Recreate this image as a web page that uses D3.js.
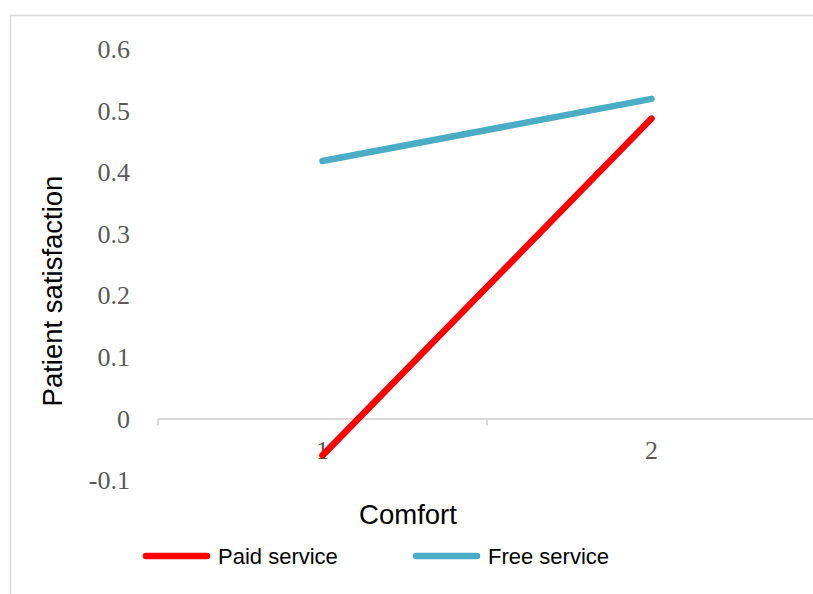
<!DOCTYPE html>
<html>
<head>
<meta charset="utf-8">
<script src="https://cdn.jsdelivr.net/npm/d3@7"></script>
<style>
  body { margin: 0; background: #fff; }
</style>
</head>
<body>
<svg id="svg"></svg>
<script>
// chart data
const categories = ['1', '2'];
const paidService = [-0.06, 0.487];
const freeService = [0.418, 0.519];
const yTicks = [-0.1, 0, 0.1, 0.2, 0.3, 0.4, 0.5, 0.6];
const yTickLabels = ['-0.1', '0', '0.1', '0.2', '0.3', '0.4', '0.5', '0.6'];
const seriesNames = ['Paid service', 'Free service'];
const seriesColors = ['#ff0000', '#4bacc6'];

const width = 813
const height = 594

const svg = d3.select('#svg')
  .attr('width', width)
  .attr('height', height);

// chart area border (only top and left visible)
svg.append('path')
  .attr('d', `M10.5,${height} V15.5 H${width}`)
  .attr('fill', 'none')
  .attr('stroke', '#d9d9d9')
  .attr('stroke-width', 1.5);

// scales
const x = d3.scaleBand()
  .domain(categories)
  .range([158, 816])
  .padding(0);

const y = d3.scaleLinear()
  .domain([-0.1, 0.6])
  .range([480, 49]);

// y tick labels (no axis line, no gridlines)
svg.append('g')
  .selectAll('text')
  .data(yTicks)
  .join('text')
  .attr('x', 130)
  .attr('y', d => y(d))
  .attr('dy', '0.35em')
  .attr('text-anchor', 'end')
  .attr('font-family', '"Liberation Serif", "Times New Roman", serif')
  .attr('font-size', '26px')
  .attr('fill', '#595959')
  .text((d, i) => yTickLabels[i]);

// x axis at zero
const xAxis = d3.axisBottom(x)
  .tickSize(0)
  .tickPadding(22);

const xg = svg.append('g')
  .attr('transform', `translate(0, ${y(0)})`)
  .call(xAxis);

xg.select('.domain')
  .attr('stroke', '#d9d9d9')
  .attr('stroke-width', 2);

xg.selectAll('.tick text')
  .attr('font-family', '"Liberation Serif", "Times New Roman", serif')
  .attr('font-size', '26px')
  .attr('fill', '#595959');

// tick marks at category boundaries
const boundaries = [x.range()[0], x(categories[1]), x.range()[1]];
xg.append('g')
  .selectAll('line')
  .data(boundaries)
  .join('line')
  .attr('x1', d => d)
  .attr('x2', d => d)
  .attr('y1', 0)
  .attr('y2', 7)
  .attr('stroke', '#d9d9d9')
  .attr('stroke-width', 2);

// lines
const line = d3.line()
  .x((d, i) => x(categories[i]) + x.bandwidth() / 2)
  .y(d => y(d));

[paidService, freeService].forEach((values, i) => {
  svg.append('path')
    .datum(values)
    .attr('d', line)
    .attr('fill', 'none')
    .attr('stroke', seriesColors[i])
    .attr('stroke-width', 6.5)
    .attr('stroke-linecap', 'round');
});

// axis titles
svg.append('text')
  .attr('transform', `translate(62, 291) rotate(-90)`)
  .attr('text-anchor', 'middle')
  .attr('font-family', '"Liberation Sans", Arial, sans-serif')
  .attr('font-size', '27.5px')
  .attr('fill', '#000')
  .text('Patient satisfaction');

svg.append('text')
  .attr('x', 408)
  .attr('y', 524)
  .attr('text-anchor', 'middle')
  .attr('font-family', '"Liberation Sans", Arial, sans-serif')
  .attr('font-size', '27.5px')
  .attr('fill', '#000')
  .text('Comfort');

// legend
const legendX = [146, 416];
const legend = svg.append('g');
seriesNames.forEach((name, i) => {
  legend.append('line')
    .attr('x1', legendX[i])
    .attr('x2', legendX[i] + 61)
    .attr('y1', 556)
    .attr('y2', 556)
    .attr('stroke', seriesColors[i])
    .attr('stroke-width', 6.5)
    .attr('stroke-linecap', 'round');
  legend.append('text')
    .attr('x', legendX[i] + 72)
    .attr('y', 556)
    .attr('dy', '0.35em')
    .attr('font-family', '"Liberation Sans", Arial, sans-serif')
    .attr('font-size', '22px')
    .attr('fill', '#000')
    .text(name);
});
</script>
</body>
</html>
